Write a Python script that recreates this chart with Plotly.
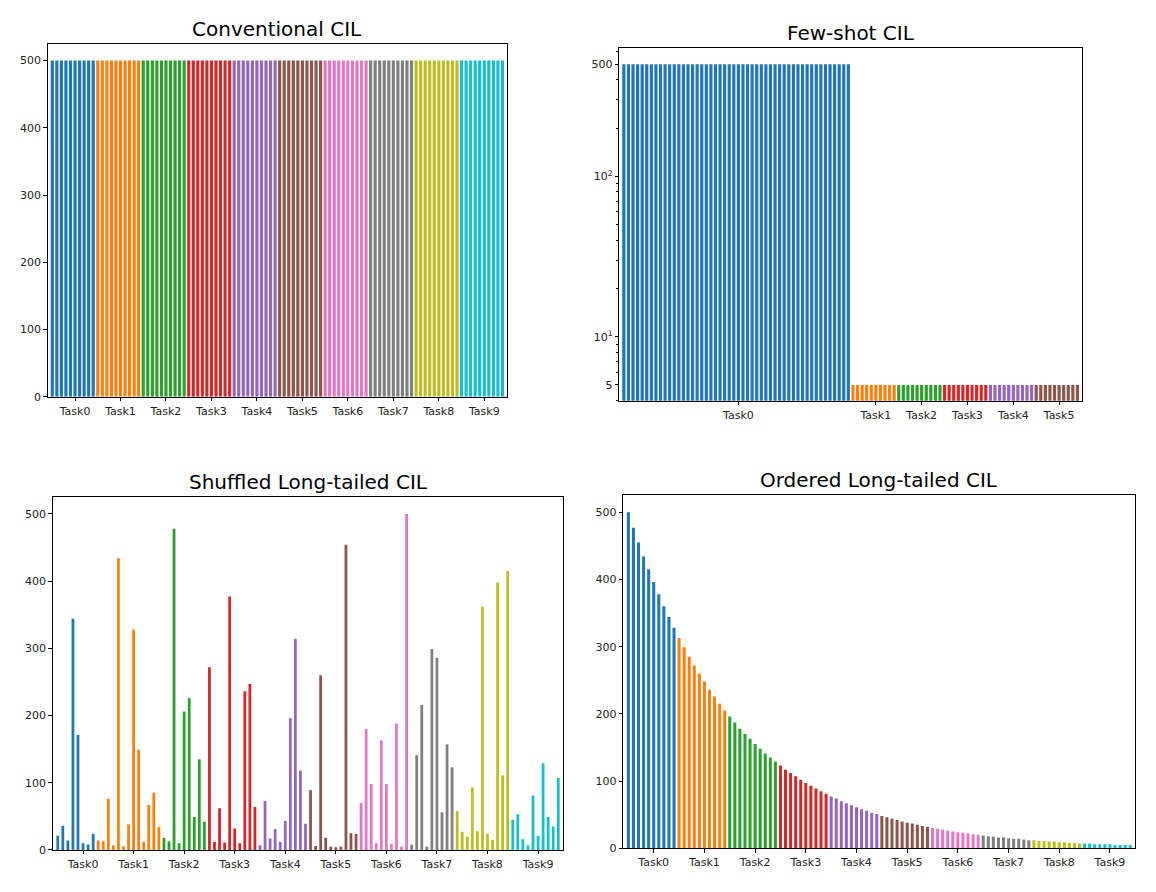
import plotly.graph_objects as go

# matplotlib tab10 cycle, one colour per task
TAB10 = ["#1f77b4", "#ff7f0e", "#2ca02c", "#d62728", "#9467bd",
         "#8c564b", "#e377c2", "#7f7f7f", "#bcbd22", "#17becf"]

# --- Conventional CIL: 10 tasks x 10 classes, 500 images each
conv_tasks = ["Task0", "Task1", "Task2", "Task3", "Task4",
              "Task5", "Task6", "Task7", "Task8", "Task9"]
conv_classes_per_task = [10, 10, 10, 10, 10, 10, 10, 10, 10, 10]
conv_samples_per_task = [500, 500, 500, 500, 500, 500, 500, 500, 500, 500]

# --- Few-shot CIL: 50 base classes, then 5 sessions of 10 classes x 5 shots
fs_tasks = ["Task0", "Task1", "Task2", "Task3", "Task4", "Task5"]
fs_classes_per_task = [50, 10, 10, 10, 10, 10]
fs_samples_per_task = [500, 5, 5, 5, 5, 5]

# --- Shuffled long-tailed CIL (per-class counts)
shuf_samples = [
    21, 36, 14, 344, 171, 10, 8, 24, 14, 13,
    76, 7, 434, 5, 38, 328, 149, 12, 67, 85,
    34, 18, 13, 478, 10, 206, 226, 49, 135, 42,
    272, 12, 62, 11, 377, 32, 10, 236, 247, 64,
    7, 73, 17, 31, 12, 43, 196, 314, 118, 39,
    89, 6, 260, 18, 5, 4, 5, 454, 25, 24,
    70, 180, 98, 10, 163, 98, 9, 188, 5, 500,
    8, 141, 216, 5, 299, 286, 56, 157, 123, 58,
    27, 20, 93, 28, 362, 24, 15, 398, 111, 415,
    45, 53, 16, 7, 81, 21, 129, 49, 35, 107,
]
# colour runs as they appear in the figure
shuf_bars_per_colour = [8, 13, 9, 10, 10, 10, 10, 9, 11, 10]
shuf_tasks = conv_tasks
shuf_classes_per_task = [10, 10, 10, 10, 10, 10, 10, 10, 10, 10]

# --- Ordered long-tailed CIL (per-class counts)
ord_samples = [
    500, 477, 455, 434, 415, 396, 378, 360, 344, 328,
    313, 299, 285, 272, 260, 248, 236, 226, 215, 205,
    196, 187, 178, 170, 163, 155, 148, 141, 135, 129,
    123, 117, 112, 107, 102, 97, 93, 89, 85, 81,
    77, 74, 70, 67, 64, 61, 58, 56, 53, 51,
    48, 46, 44, 42, 40, 38, 37, 35, 33, 32,
    30, 29, 28, 26, 25, 24, 23, 22, 21, 20,
    19, 18, 17, 16, 16, 15, 14, 14, 13, 12,
    12, 11, 11, 10, 10, 9, 9, 8, 8, 7,
    7, 7, 6, 6, 6, 6, 5, 5, 5, 5,
]
ord_tasks = conv_tasks
ord_classes_per_task = [10, 10, 10, 10, 10, 10, 10, 10, 10, 10]

FONT = "DejaVu Sans, Liberation Sans, sans-serif"


def expand(classes_per_task, samples_per_task):
    """Per-class sample counts from per-task values."""
    out = []
    for n, s in zip(classes_per_task, samples_per_task):
        out += [s] * n
    return out


def task_ticks(classes_per_task):
    """Tick position in the middle of each task's class range."""
    pos, start = [], 0
    for n in classes_per_task:
        pos.append(start + n / 2)
        start += n
    return pos


def add_bars(fig, idx, samples, runs, width):
    start = 0
    for t, n in enumerate(runs):
        xs = list(range(start, start + n))
        fig.add_trace(go.Bar(
            x=xs, y=samples[start:start + n], width=width,
            marker=dict(color=TAB10[t], line=dict(width=0)),
            xaxis="x" if idx == 1 else f"x{idx}",
            yaxis="y" if idx == 1 else f"y{idx}",
            showlegend=False, hovertemplate="class %{x}: %{y}<extra></extra>",
        ))
        start += n


fig = go.Figure()
add_bars(fig, 1, expand(conv_classes_per_task, conv_samples_per_task),
         conv_classes_per_task, 0.7)
add_bars(fig, 2, expand(fs_classes_per_task, fs_samples_per_task),
         fs_classes_per_task, 0.7)
add_bars(fig, 3, shuf_samples, shuf_bars_per_colour, 0.55)
add_bars(fig, 4, ord_samples, ord_classes_per_task, 0.6)

# panel boxes in paper coordinates: (x0, x1, y0, y1)
domains = {
    1: ([0.0413, 0.4386], [0.5516, 0.9507]),
    2: ([0.5357, 0.9360], [0.5471, 0.9454]),
    3: ([0.0456, 0.4873], [0.0396, 0.4383]),
    4: ([0.5392, 0.9821], [0.0415, 0.4402]),
}
titles = {1: "Conventional CIL", 2: "Few-shot CIL",
          3: "Shuffled Long-tailed CIL", 4: "Ordered Long-tailed CIL"}
xticks = {
    1: (task_ticks(conv_classes_per_task), conv_tasks),
    2: (task_ticks(fs_classes_per_task), fs_tasks),
    3: (task_ticks(shuf_classes_per_task), shuf_tasks),
    4: (task_ticks(ord_classes_per_task), ord_tasks),
}

axis_style = dict(
    showline=True, mirror=True, linecolor="black", linewidth=1,
    ticks="outside", ticklen=3.5, tickwidth=1, tickcolor="black",
    showgrid=False, zeroline=False,
    tickfont=dict(family=FONT, size=11, color="#222222"),
)

layout = {}
annotations = []
for i in range(1, 5):
    xd, yd = domains[i]
    xs = "" if i == 1 else str(i)
    tv, tt = xticks[i]
    layout[f"xaxis{xs}"] = dict(
        axis_style, domain=xd, anchor=f"y{xs}", range=[-1, 100],
        tickmode="array", tickvals=tv, ticktext=tt,
    )
    if i == 2:
        layout[f"yaxis{xs}"] = dict(
            axis_style, domain=yd, anchor=f"x{xs}", type="log",
            range=[0.6, 2.798], tickmode="array",
            tickvals=[5, 10, 100, 500],
            ticktext=["5", "10<sup>1</sup>", "10<sup>2</sup>", "500"],
            minor=dict(ticks="outside", ticklen=2, tickcolor="black",
                       tickmode="array",
                       tickvals=[4, 6, 7, 8, 9, 20, 30, 40, 50, 60, 70, 80, 90,
                                 200, 300, 400, 600]),
        )
    else:
        layout[f"yaxis{xs}"] = dict(
            axis_style, domain=yd, anchor=f"x{xs}", range=[0, 525],
            tickmode="array", tickvals=[0, 100, 200, 300, 400, 500],
        )
    annotations.append(dict(
        text=titles[i], xref="paper", yref="paper",
        x=(xd[0] + xd[1]) / 2, y=yd[1], xanchor="center", yanchor="bottom",
        yshift=1, showarrow=False,
        font=dict(family=FONT, size=20, color="black"),
    ))

fig.update_layout(
    **layout,
    annotations=annotations,
    barmode="overlay",
    width=1156, height=892,
    margin=dict(l=0, r=0, t=0, b=0),
    paper_bgcolor="white", plot_bgcolor="white",
    font=dict(family=FONT),
)

fig.write_html("out.html", config={"displayModeBar": False},
               post_script="document.body.style.margin='0';")
